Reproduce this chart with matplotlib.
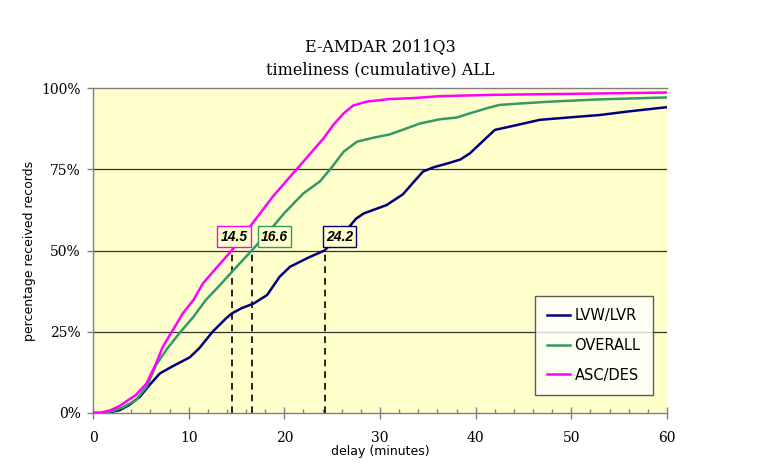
import matplotlib
matplotlib.use("Agg")
import matplotlib.pyplot as plt
from matplotlib.ticker import MultipleLocator, FuncFormatter

# ---- data ----
lvw_x = [0, 1.4, 2.8, 3.8, 4.9, 5.9, 7.0, 8.4, 10.1, 11.1, 12.5, 13.9, 14.5, 15.5, 16.8, 18.2,
         19.5, 20.6, 22.5, 24.2, 25.2, 26.5, 27.5, 28.3, 30.7, 32.4, 33.5, 34.5, 35.6, 37.3,
         38.4, 39.4, 40.7, 42.0, 44.3, 46.7, 50.0, 53.0, 56.0, 60.0]
lvw_y = [0, 0, 0.9, 2.5, 5.0, 8.6, 12.2, 14.5, 17.1, 19.9, 25.0, 29.1, 30.6, 32.2, 33.7, 36.3,
         41.9, 45.0, 47.8, 50.0, 53.0, 56.3, 59.8, 61.4, 64.0, 67.3, 71.0, 74.3, 75.6, 77.0,
         78.0, 79.9, 83.5, 87.1, 88.6, 90.2, 91.0, 91.7, 92.8, 94.1]

ovr_x = [0, 1.0, 2.0, 3.1, 4.5, 5.6, 6.6, 7.7, 9.1, 10.5, 11.8, 13.0, 14.7, 16.6, 18.8, 20.0,
         21.3, 22.0, 23.7, 24.8, 26.2, 27.6, 29.3, 31.0, 32.8, 34.2, 36.3, 38.0, 39.5, 41.2,
         42.5, 45.0, 47.8, 53.0, 60.0]
ovr_y = [0, 0, 0.5, 1.7, 4.0, 8.1, 14.8, 19.6, 24.8, 29.6, 34.8, 38.5, 44.0, 50.0, 57.3, 61.5,
         65.5, 67.6, 71.2, 75.0, 80.4, 83.5, 84.7, 85.7, 87.6, 89.1, 90.4, 90.9, 92.3, 93.8,
         94.8, 95.3, 95.8, 96.5, 97.1]

asc_x = [0, 0.7, 1.8, 2.8, 4.5, 5.6, 6.6, 7.3, 8.2, 9.4, 10.5, 11.5, 13.0, 14.5, 16.4, 18.8,
         20.6, 22.3, 24.1, 25.1, 26.2, 27.2, 28.6, 31.0, 33.5, 36.3, 42.0, 50.0, 60.0]
asc_y = [0, 0, 0.8, 2.2, 5.6, 9.1, 15.3, 20.4, 24.8, 30.7, 34.8, 39.9, 45.0, 50.0, 57.3, 66.6,
         72.7, 78.4, 84.5, 88.6, 92.2, 94.6, 95.8, 96.6, 96.9, 97.5, 97.9, 98.2, 98.6]

series_names = ["LVW/LVR", "OVERALL", "ASC/DES"]
series_colors = ["#000080", "#339966", "#FF00FF"]
median_x = [14.5, 16.6, 24.2]
median_labels = ["14.5", "16.6", "24.2"]
median_colors = ["#FF00FF", "#339966", "#000080"]
label_x = [14.75, 19.0, 25.8]

title_lines = ["E-AMDAR 2011Q3", "timeliness (cumulative) ALL"]

fig = plt.figure(figsize=(7.68, 4.71), dpi=100)
ax = fig.add_axes([93/768, 1 - 413/471, (667-93)/768, (413-88)/471])
ax.set_facecolor("#FFFFCC")

for xs, ys, name, col in zip([lvw_x, ovr_x, asc_x], [lvw_y, ovr_y, asc_y], series_names, series_colors):
    ax.plot(xs, ys, color=col, lw=1.8, label=name, zorder=3, solid_joinstyle="round")

for mx, lab, col, lx in zip(median_x, median_labels, median_colors, label_x):
    ax.plot([mx, mx], [0, 50], color="black", lw=1.2, ls=(0, (4, 3)), zorder=2)
    ax.text(lx, 54.3, lab, fontsize=10, fontweight="bold", fontstyle="italic",
            family="Liberation Sans", ha="center", va="center", zorder=5,
            bbox=dict(boxstyle="square,pad=0.22", fc="#FFFFCC", ec=col, lw=1.0))

ax.set_xlim(0, 60)
ax.set_ylim(0, 100)
ax.xaxis.set_major_locator(MultipleLocator(10))
ax.xaxis.set_minor_locator(MultipleLocator(2))
ax.yaxis.set_major_locator(MultipleLocator(25))
ax.yaxis.set_major_formatter(FuncFormatter(lambda v, p: f"{int(v)}%"))

for y in [25, 50, 75]:
    ax.axhline(y, color="#333333", lw=0.9, zorder=1)

for s in ["left", "bottom", "top", "right"]:
    ax.spines[s].set_color("#808080")
    ax.spines[s].set_linewidth(1.0)
ax.spines["right"].set_visible(False)

ax.tick_params(axis="x", which="major", direction="inout", length=8, width=1, color="#808080",
               pad=9, labelsize=10)
ax.tick_params(axis="x", which="minor", direction="in", length=3, width=1, color="#808080")
ax.tick_params(axis="y", which="major", direction="out", length=4, width=1, color="#808080",
               pad=5, labelsize=10)
for lab in ax.get_xticklabels() + ax.get_yticklabels():
    lab.set_family("DejaVu Serif")

ax.set_xlabel("delay (minutes)", fontsize=9, labelpad=0, family="DejaVu Sans")
ax.set_ylabel("percentage received records", fontsize=9, family="DejaVu Sans")
ax.yaxis.set_label_coords((36 - 93) / 574, 0.5)

fig.text(380/768, 1 - 47/471, title_lines[0], ha="center", va="center", fontsize=11.5,
         family="DejaVu Serif")
fig.text(380/768, 1 - 70/471, title_lines[1], ha="center", va="center", fontsize=11.5,
         family="DejaVu Serif")

leg = ax.legend(loc="lower right", bbox_to_anchor=((653 - 93) / 574, (413 - 395) / 325),
                borderaxespad=0, fontsize=10.5, frameon=True,
                fancybox=False, edgecolor="#333333", handlelength=1.6, handletextpad=0.3,
                labelspacing=1.0, borderpad=0.85)
leg.get_frame().set_linewidth(1.0)
leg.get_frame().set_facecolor("white")

fig.savefig("out.png", dpi=100)
